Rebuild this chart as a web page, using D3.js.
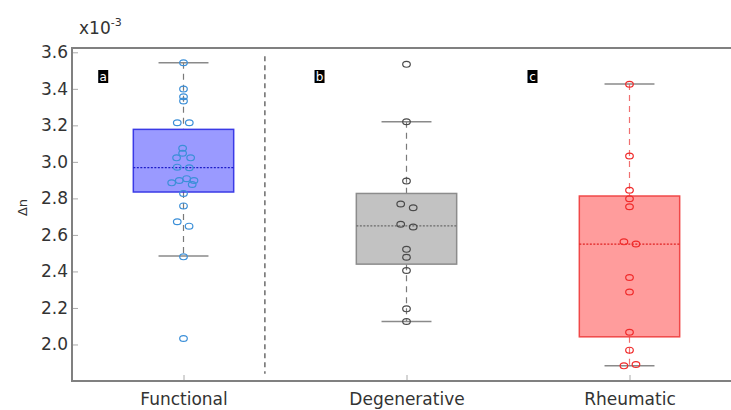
<!DOCTYPE html>
<html><head><meta charset="utf-8">
<script src="https://cdn.jsdelivr.net/npm/d3@7"></script>
<style>
html,body{margin:0;padding:0;background:#fff;}
svg{display:block;font-family:"DejaVu Sans",Verdana,sans-serif;}
</style></head>
<body><svg id="c" width="731" height="410"></svg>
<script>
// ---------- data ----------
const categories = ["Functional", "Degenerative", "Rheumatic"];
const panelLetters = ["a", "b", "c"];
const yTicks = [2.0, 2.2, 2.4, 2.6, 2.8, 3.0, 3.2, 3.4, 3.6];
// box statistics (x10^-3)
const q1 = [2.835, 2.440, 2.042];
const median = [2.968, 2.650, 2.550];
const q3 = [3.178, 2.827, 2.813];
const whiskerLow = [2.484, 2.126, 1.883];
const whiskerHigh = [3.543, 3.220, 3.426];
// individual measurements
const functionalValues = [3.543, 3.399, 3.357, 3.333, 3.214, 3.214, 3.074, 3.047, 3.022, 3.022,
  2.971, 2.968, 2.908, 2.898, 2.898, 2.885, 2.876, 2.827, 2.759, 2.672, 2.648, 2.480, 2.033];
const functionalJitter = [0, 0, 0, 0, -0.028, 0.026, -0.004, -0.004, -0.031, 0.032,
  -0.028, 0.026, 0.014, -0.019, 0.047, -0.053, 0.039, 0, 0, -0.028, 0.025, 0, 0];
const degenerativeValues = [3.534, 3.220, 2.895, 2.769, 2.749, 2.658, 2.643, 2.521, 2.478, 2.405, 2.195, 2.126];
const degenerativeJitter = [0, 0, 0, -0.026, 0.030, -0.026, 0.030, 0, 0, 0, 0, 0];
const rheumaticValues = [3.425, 3.032, 2.845, 2.798, 2.754, 2.562, 2.550, 2.367, 2.287, 2.067, 1.969, 1.883, 1.890];
const rheumaticJitter = [0, 0, 0, 0, 0, -0.025, 0.029, 0, 0, 0, 0, -0.025, 0.029];
const dividerAt = 1.365;

// ---------- styles ----------
const boxFill = ["#9a9aff", "#c2c2c2", "#ff9c9c"];
const boxStroke = ["#3a3ae6", "#8c8c8c", "#f04848"];
const medianStroke = ["#1c1cc8", "#6a6a6a", "#e02020"];
const whiskerStroke = ["#7a7a7a", "#7a7a7a", "#f07070"];
const pointStroke = ["#3b8fd8", "#4a4a4a", "#f02a2a"];

const svg = d3.select("#c");
const mLeft = 72, mTop = 48, mBottom = 381, mRight = 741;
const x = d3.scaleLinear().domain([0.5, 3.5]).range([mLeft, mRight]);
const y = d3.scaleLinear().domain([1.8, 3.6236]).range([mBottom, mTop]);

const jitters = [functionalJitter, degenerativeJitter, rheumaticJitter];
const groups = [functionalValues, degenerativeValues, rheumaticValues].map((v, i) => ({
  i, pos: i + 1, q1: q1[i], med: median[i], q3: q3[i], lo: whiskerLow[i], hi: whiskerHigh[i],
  pts: v.map((val, k) => ({val, j: jitters[i][k]}))
}));

const boxHalf = 0.225, capHalf = 0.112;

// divider
svg.append("line")
  .attr("x1", x(dividerAt)).attr("x2", x(dividerAt))
  .attr("y1", y(3.578)).attr("y2", y(1.84))
  .attr("stroke", "#555").attr("stroke-width", 1.3).attr("stroke-dasharray", "5,4");

const g = svg.selectAll("g.grp").data(groups).join("g").attr("class", "grp");

// whiskers
g.append("line")
  .attr("x1", d => x(d.pos)).attr("x2", d => x(d.pos))
  .attr("y1", d => y(d.hi)).attr("y2", d => y(d.q3))
  .attr("stroke", d => whiskerStroke[d.i]).attr("stroke-width", 1.2).attr("stroke-dasharray", "6,5");
g.append("line")
  .attr("x1", d => x(d.pos)).attr("x2", d => x(d.pos))
  .attr("y1", d => y(d.q1)).attr("y2", d => y(d.lo))
  .attr("stroke", d => whiskerStroke[d.i]).attr("stroke-width", 1.2).attr("stroke-dasharray", "6,5");
// caps
[d => d.hi, d => d.lo].forEach(f => {
  g.append("line")
    .attr("x1", d => x(d.pos - capHalf)).attr("x2", d => x(d.pos + capHalf))
    .attr("y1", d => y(f(d))).attr("y2", d => y(f(d)))
    .attr("stroke", "#8a8a8a").attr("stroke-width", 1.5);
});
// boxes
g.append("rect")
  .attr("x", d => x(d.pos - boxHalf)).attr("width", d => x(d.pos + boxHalf) - x(d.pos - boxHalf))
  .attr("y", d => y(d.q3)).attr("height", d => y(d.q1) - y(d.q3))
  .attr("fill", d => boxFill[d.i]).attr("stroke", d => boxStroke[d.i]).attr("stroke-width", 1.5);
// medians
g.append("line")
  .attr("x1", d => x(d.pos - boxHalf)).attr("x2", d => x(d.pos + boxHalf))
  .attr("y1", d => y(d.med)).attr("y2", d => y(d.med))
  .attr("stroke", d => medianStroke[d.i]).attr("stroke-width", 1.2).attr("stroke-dasharray", "2,1.5");
// points
g.each(function(d) {
  d3.select(this).selectAll("ellipse").data(d.pts).join("ellipse")
    .attr("cx", p => x(d.pos + p.j)).attr("cy", p => y(p.val))
    .attr("rx", 3.8).attr("ry", 2.9)
    .attr("fill", "none").attr("stroke", pointStroke[d.i]).attr("stroke-width", 1.2);
});

// panel letters
const letterOffset = [-0.36, -0.39, -0.435];
panelLetters.forEach((t, i) => {
  const cx = x(i + 1 + letterOffset[i]);
  svg.append("rect").attr("x", cx - 5).attr("y", 70).attr("width", 10).attr("height", 13).attr("fill", "#000");
  svg.append("text").attr("x", cx).attr("y", 80.5).attr("text-anchor", "middle")
    .attr("fill", "#fff").attr("font-size", 12).text(t);
});

// axes
const yAxis = d3.axisLeft(y).tickValues(yTicks).tickFormat(d3.format(".1f")).tickSizeInner(-6).tickSizeOuter(0).tickPadding(4);
const ya = svg.append("g").attr("transform", `translate(${mLeft},0)`).call(yAxis);
ya.select(".domain").remove();
ya.selectAll(".tick line").attr("stroke", "#aaa");
ya.selectAll(".tick text").attr("font-size", 17).attr("fill", "#333").attr("font-family", "DejaVu Sans").attr("x", -4);

const xAxis = d3.axisBottom(x).tickValues([1, 2, 3]).tickFormat((d) => categories[d - 1]).tickSizeInner(-6).tickSizeOuter(0).tickPadding(12);
const xa = svg.append("g").attr("transform", `translate(0,${mBottom})`).call(xAxis);
xa.select(".domain").remove();
xa.selectAll(".tick line").attr("stroke", "#aaa");
xa.selectAll(".tick text").attr("font-size", 17).attr("fill", "#333").attr("font-family", "DejaVu Sans").attr("y", 12);

// frame
svg.append("path")
  .attr("d", `M${mRight + 10},${mTop}H${mLeft}V${mBottom}H${mRight + 10}`)
  .attr("fill", "none").attr("stroke", "#808080").attr("stroke-width", 2);

// y label and exponent
svg.append("text").attr("transform", `translate(27,${y(2.75)}) rotate(-90)`)
  .attr("text-anchor", "middle").attr("font-size", 13).attr("fill", "#333").text("Δn");
const ex = svg.append("text").attr("x", 79).attr("y", 34).attr("font-size", 17).attr("fill", "#333");
ex.append("tspan").text("x10");
ex.append("tspan").attr("dy", -8).attr("font-size", 11).text("-3");
</script>
</body></html>
